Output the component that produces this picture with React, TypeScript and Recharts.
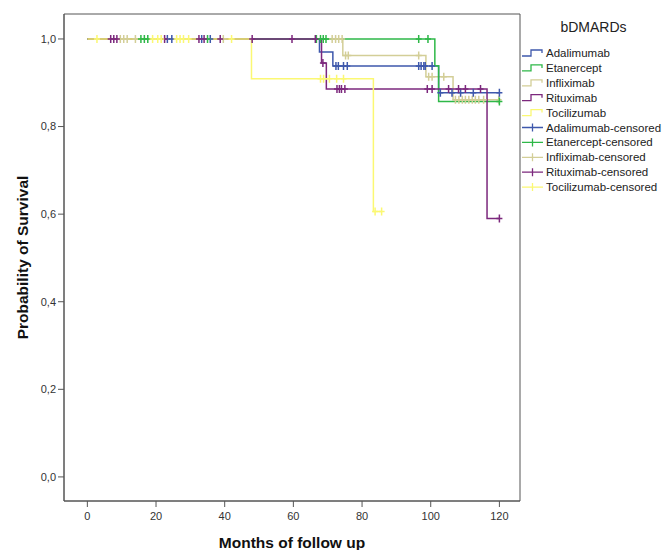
import React from 'react';
import {
  ComposedChart, Line, Scatter, XAxis, YAxis, ReferenceArea, Legend,
} from 'recharts';

// ---- tick labels ----
const xTicks = [0, 20, 40, 60, 80, 100, 120];
const yTicks = [0, 0.2, 0.4, 0.6, 0.8, 1.0];

// ---- Kaplan-Meier step curves (event times, survival after event) ----
const adaTimes = [0, 67.6, 71.5, 102.3, 120];
const adaSurv = [1, 0.970, 0.938, 0.877, 0.877];
const adaCensored = [23.3, 24.6, 33.3, 35.8, 72.4, 73.1, 74.6, 75.7, 96.5, 97.2, 98, 98.4, 100.4, 102.8, 106.2, 108.7, 112.4, 120];

const etaTimes = [0, 101.2, 102.3, 120];
const etaSurv = [1, 0.939, 0.857, 0.857];
const etaCensored = [15.6, 16.6, 17.6, 35, 66.7, 67.9, 68.7, 69.5, 96.5, 99.2, 120];

const infTimes = [0, 74.4, 98.6, 106.5, 120];
const infSurv = [1, 0.962, 0.914, 0.861, 0.861];
const infCensored = [9.6, 10.6, 11.6, 14, 39.6, 71.3, 72.3, 73.2, 74.2, 75.2, 76, 96.5, 99.4, 100.4, 103.8, 107.2, 108.2, 109.2, 110.1, 111.1, 112.1, 113, 114, 115.4, 119.8];

const ritTimes = [0, 68.2, 69.6, 116.4, 120];
const ritSurv = [1, 0.945, 0.886, 0.59, 0.59];
const ritCensored = [6.8, 7.7, 8.6, 22.5, 32.5, 34, 38.7, 48, 59.6, 66.4, 68.6, 72.7, 73.4, 74, 75, 99, 100.4, 105.2, 108.1, 110.1, 114.5, 120];

const tocTimes = [0, 47.8, 83.3, 85.7];
const tocSurv = [1, 0.909, 0.606, 0.606];
const tocCensored = [2.8, 19, 20.5, 21.5, 26, 27, 28, 29.5, 42, 67.9, 68.8, 70.5, 72.6, 74.6, 83.8, 85.7];

const groupNames = ['Adalimumab', 'Etanercept', 'Infliximab', 'Rituximab', 'Tocilizumab'];
const groupColors = ['#3E58AC', '#2EB848', '#D3CE97', '#7C287D', '#FBF873'];

const toSteps = (times: number[], surv: number[]) => times.map((t, i) => ({ t, s: surv[i] }));
const toCensor = (cens: number[], times: number[], surv: number[]) =>
  cens.map((t) => {
    let idx = 0;
    for (let i = 0; i < times.length; i++) if (times[i] <= t) idx = i;
    return { t, s: surv[idx] };
  });

const series = [
  { name: groupNames[0], color: groupColors[0], steps: toSteps(adaTimes, adaSurv), cens: toCensor(adaCensored, adaTimes, adaSurv) },
  { name: groupNames[1], color: groupColors[1], steps: toSteps(etaTimes, etaSurv), cens: toCensor(etaCensored, etaTimes, etaSurv) },
  { name: groupNames[2], color: groupColors[2], steps: toSteps(infTimes, infSurv), cens: toCensor(infCensored, infTimes, infSurv) },
  { name: groupNames[3], color: groupColors[3], steps: toSteps(ritTimes, ritSurv), cens: toCensor(ritCensored, ritTimes, ritSurv) },
  { name: groupNames[4], color: groupColors[4], steps: toSteps(tocTimes, tocSurv), cens: toCensor(tocCensored, tocTimes, tocSurv) },
];
// drawing order (last on top)
const drawOrder = [2, 0, 1, 3, 4];

const FONT = '"Liberation Sans", Arial, sans-serif';

const crossShape = (color: string) => (props: any) => {
  const { cx, cy } = props;
  if (cx == null || cy == null) return <g />;
  return (
    <path
      d={`M${cx - 3},${cy}H${cx + 3}M${cx},${cy - 4}V${cy + 4}`}
      stroke={color}
      strokeWidth={1.5}
      fill="none"
    />
  );
};

const renderLegend = () => {
  const items = [
    ...groupNames.map((n, i) => ({ label: n, color: groupColors[i], censored: false })),
    ...groupNames.map((n, i) => ({ label: n + '-censored', color: groupColors[i], censored: true })),
  ];
  return (
    <svg width={147} height={190} style={{ display: 'block', fontFamily: FONT }}>
      <text x={73.5} y={13} textAnchor="middle" dominantBaseline="central" fontSize={14} fill="#222">
        bDMARDs
      </text>
      {items.map((it, i) => {
        const cy = 39 + i * 14.9;
        return (
          <g key={it.label}>
            {it.censored ? (
              <path d={`M2,${cy}H23M12.5,${cy - 4}V${cy + 4}`} stroke={it.color} strokeWidth={1.3} fill="none" />
            ) : (
              <path d={`M2,${cy + 3}H11V${cy - 3}H22V${cy}`} stroke={it.color} strokeWidth={1.3} fill="none" />
            )}
            <text x={26} y={cy} dominantBaseline="central" fontSize={11.5} fill="#222">
              {it.label}
            </text>
          </g>
        );
      })}
    </svg>
  );
};

export default function App() {
  return (
    <div style={{ position: 'absolute', left: 0, top: 0, width: 667, height: 550, background: '#fff' }}>
      <ComposedChart
        width={667}
        height={550}
        margin={{ top: 14, right: 147, bottom: 0, left: 0 }}
        style={{ fontFamily: FONT }}
      >
        <XAxis
          type="number"
          dataKey="t"
          domain={[-6.8, 126]}
          ticks={xTicks}
          allowDataOverflow
          height={49}
          tickSize={6}
          tickMargin={5}
          axisLine={{ stroke: '#555' }}
          tickLine={{ stroke: '#555' }}
          tick={{ fontSize: 11, fill: '#333', fontFamily: FONT }}
          label={{
            content: (p: any) => {
              const vb = p.viewBox || { x: 64, y: 501, width: 456, height: 49 };
              return (
                <text x={vb.x + vb.width / 2} y={vb.y + 47} textAnchor="middle" fontSize={15.5} fontWeight="bold" fill="#111" fontFamily={FONT}>
                  Months of follow up
                </text>
              );
            },
          }}
        />
        <YAxis
          type="number"
          domain={[-0.055, 1.057]}
          ticks={yTicks}
          allowDataOverflow
          width={64}
          tickSize={6}
          axisLine={{ stroke: '#555' }}
          tickLine={{ stroke: '#555' }}
          tick={{ fontSize: 11, fill: '#333', fontFamily: FONT }}
          tickFormatter={(v: number) => v.toFixed(1).replace('.', ',')}
          label={{
            content: (p: any) => {
              const vb = p.viewBox || { x: 0, y: 14, width: 64, height: 487 };
              const cx = 22;
              const cy = vb.y + vb.height / 2;
              return (
                <text x={cx} y={cy} transform={`rotate(-90, ${cx}, ${cy})`} textAnchor="middle" dominantBaseline="central" fontSize={15.5} fontWeight="bold" fill="#111" fontFamily={FONT}>
                  Probability of Survival
                </text>
              );
            },
          }}
        />
        <ReferenceArea x1={-6.8} x2={126} y1={-0.055} y2={1.057} fill="none" stroke="#555" strokeWidth={1} ifOverflow="visible" />
        {drawOrder.map((i) => (
          <Line
            key={'l' + i}
            data={series[i].steps}
            dataKey="s"
            type="stepAfter"
            stroke={series[i].color}
            strokeWidth={1.5}
            dot={false}
            activeDot={false}
            isAnimationActive={false}
            name={series[i].name}
            legendType="none"
          />
        ))}
        {drawOrder.map((i) => (
          <Scatter
            key={'c' + i}
            data={series[i].cens}
            dataKey="s"
            shape={crossShape(series[i].color)}
            isAnimationActive={false}
            name={series[i].name + '-censored'}
            legendType="none"
          />
        ))}
        <Legend
          content={renderLegend}
          layout="vertical"
          verticalAlign="middle"
          align="center"
          wrapperStyle={{ position: 'absolute', left: 520, top: 14, width: 147, height: 190 }}
        />
      </ComposedChart>
    </div>
  );
}
